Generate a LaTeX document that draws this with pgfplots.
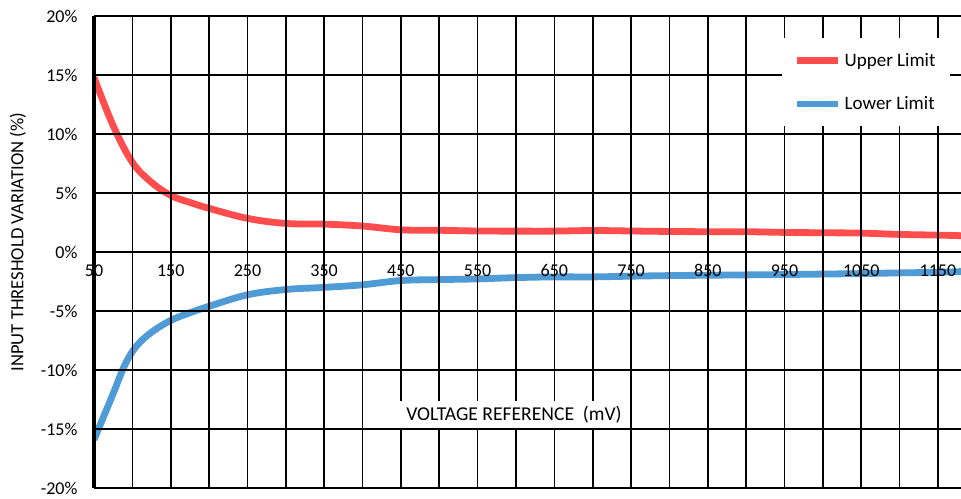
\documentclass[border=0pt]{standalone}
\usepackage{pgfplots}
\pgfplotsset{compat=1.18}
\usepackage{fontspec}
\setmainfont{Carlito}
\definecolor{upr}{RGB}{255,77,77}
\definecolor{lwr}{RGB}{79,155,213}
\begin{document}
\begin{tikzpicture}
\begin{axis}[
  scale only axis,
  width=867pt, height=472pt,
  xmin=50, xmax=1180, ymin=-20, ymax=20,
  axis on top,
  axis lines*=left,
  x axis line style={line width=1.6pt},
  y axis line style={line width=4pt},
  xtick={50,150,...,1150},
  minor xtick={100,200,...,1100},
  xticklabels={50,150,250,350,450,550,650,750,850,950,1050,1150},
  ytick={-20,-15,...,20},
  yticklabels={-20\%,-15\%,-10\%,-5\%,0\%,5\%,10\%,15\%,20\%},
  major tick length=0pt, minor tick length=0pt,
  grid=both,
  major grid style={black, line width=1.6pt},
  minor grid style={black, line width=1.6pt},
  tick label style={font=\fontsize{18}{20}\selectfont},
  xticklabel style={anchor=north, yshift=227pt},
  yticklabel style={xshift=-13pt},
  xlabel={VOLTAGE REFERENCE~~(mV)},
  ylabel={INPUT THRESHOLD VARIATION (\%)},
  every axis x label/.style={at={(axis description cs:0.4844,0.156)}, anchor=center,
     fill=white, inner xsep=7pt, inner ysep=5pt, font=\fontsize{19.6}{21}\selectfont},
  every axis y label/.style={at={(axis description cs:-0.0877,0.521)}, anchor=center,
     rotate=90, font=\fontsize{18.6}{20}\selectfont},
  legend style={at={(axis description cs:0.7935,0.9536)}, anchor=north west,
     draw=none, fill=white, inner xsep=12pt, inner ysep=13pt, row sep=25pt,
     font=\fontsize{19}{21}\selectfont,
     nodes={inner xsep=3pt, inner ysep=2pt}},
  legend cell align=left,
  legend image code/.code={\draw[#1, line width=6.5pt] (0pt,0pt) -- (41pt,0pt);},
]
\addplot[upr, line width=6.8pt, smooth, tension=0.6] coordinates {
(50,14.8) (75,10.7) (100,7.6) (125,5.9) (150,4.8) (175,4.2) (200,3.7)
(250,2.85) (300,2.42) (350,2.36) (400,2.2) (450,1.88) (500,1.84) (550,1.78)
(600,1.77) (650,1.77) (700,1.82) (750,1.78) (800,1.74) (850,1.72) (900,1.72)
(950,1.66) (1000,1.63) (1050,1.6) (1100,1.49) (1150,1.43) (1180,1.38)};
\addlegendentry{Upper Limit}
\addplot[lwr, line width=6.8pt, smooth, tension=0.6] coordinates {
(50,-15.9) (75,-12.0) (90,-9.6) (105,-8.0) (125,-6.8) (150,-5.8) (175,-5.15) (200,-4.6)
(250,-3.63) (300,-3.18) (350,-3.0) (400,-2.78) (450,-2.42) (500,-2.34) (550,-2.28)
(600,-2.17) (650,-2.11) (700,-2.11) (750,-2.05) (800,-2.0) (850,-1.97) (900,-1.94)
(950,-1.91) (1000,-1.87) (1050,-1.83) (1100,-1.77) (1150,-1.72) (1180,-1.66)};
\addlegendentry{Lower Limit}
\end{axis}
\pgfresetboundingbox
\path ([shift={(-94pt,-10pt)}]current axis.south west) rectangle ([shift={(0pt,16pt)}]current axis.north east);
\end{tikzpicture}
\end{document}
